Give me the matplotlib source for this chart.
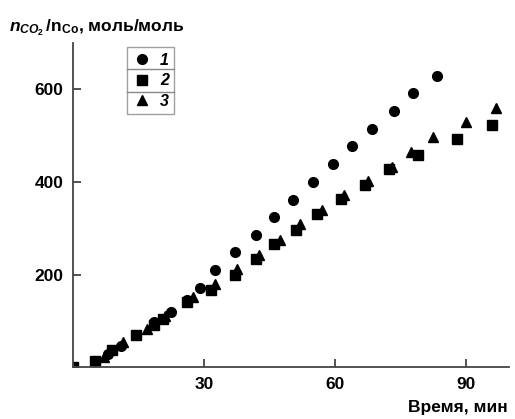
import numpy as np
import matplotlib
matplotlib.use("Agg")
import matplotlib.pyplot as plt
from matplotlib.lines import Line2D

plt.rcParams['font.family'] = ['Liberation Sans', 'DejaVu Sans']
plt.rcParams['mathtext.fontset'] = 'custom'
plt.rcParams['mathtext.rm'] = 'Liberation Sans:bold'
plt.rcParams['mathtext.it'] = 'Liberation Sans:italic:bold'
plt.rcParams['mathtext.bf'] = 'Liberation Sans:bold'

# series 1 (circles)
t1 = [0, 5, 8, 11, 14.5, 18.5, 22.5, 26, 29, 32.5, 37, 42, 46, 50.5, 55, 59.5, 64, 68.5, 73.5, 78, 83.5]
n1 = [0, 12, 28, 45, 70, 97, 120, 145, 170, 209, 248, 286, 324, 361, 400, 439, 477, 515, 553, 592, 630]

# series 2 (squares)
t2 = [0, 5, 9, 14.5, 18.5, 20.5, 26, 31.5, 37, 42, 46, 51, 56, 61.5, 67, 72.5, 79, 88, 96]
n2 = [0, 14, 36, 70, 90, 104, 140, 167, 200, 234, 265, 297, 331, 363, 394, 427, 459, 492, 524]

# series 3 (triangles)
t3 = [0, 7, 11.5, 17, 21, 27.5, 32.5, 37.5, 42.5, 47.5, 52, 57, 62, 67.5, 73, 77.5, 82.5, 90, 97]
n3 = [0, 22, 55, 82, 110, 151, 180, 212, 243, 275, 310, 340, 371, 403, 432, 464, 497, 529, 560]

labels = ['1', '2', '3']
xticks = [30, 60, 90]
yticks = [200, 400, 600]

fig = plt.figure(figsize=(5.15, 4.19), dpi=100)
ax = fig.add_axes([0.142, 0.124, 0.847, 0.773])

h1, = ax.plot(t1, n1, 'o', color='black', ms=7, ls='none')
h2, = ax.plot(t2, n2, 's', color='black', ms=6.5, ls='none')
h3, = ax.plot(t3, n3, '^', color='black', ms=7.5, ls='none')

ax.set_xlim(0, 100)
ax.set_ylim(0, 700)
ax.set_xticks(xticks)
ax.set_yticks(yticks)

for s in ['top', 'right']:
    ax.spines[s].set_visible(False)
for s in ['left', 'bottom']:
    ax.spines[s].set_color('#444444')
    ax.spines[s].set_linewidth(1.3)
    ax.spines[s].set_zorder(3)

ax.tick_params(direction='in', length=6, width=1.3, color='#444444',
               labelsize=12.5, pad=7)
for lab in ax.get_xticklabels() + ax.get_yticklabels():
    lab.set_fontweight('bold')

leg = ax.legend([h1, h2, h3], labels, loc='upper left',
                bbox_to_anchor=(0.124, 0.988), borderaxespad=0,
                frameon=True, fancybox=False,
                edgecolor='#888888', handlelength=1.2, handletextpad=0.5,
                borderpad=0.35, labelspacing=0.35, markerfirst=True,
                prop={'weight': 'bold', 'style': 'italic', 'size': 11.5})
leg.get_frame().set_linewidth(1.0)

fig.canvas.draw()
bb = leg.get_frame().get_window_extent().transformed(fig.transFigure.inverted())
for k in (1, 2):
    yy = bb.y0 + bb.height * k / 3
    fig.add_artist(Line2D([bb.x0, bb.x1], [yy, yy], color='#888888', lw=1.0))

fig.text(0.018, 0.935, r"$\mathit{n}_{\mathit{CO_2}}\,$/n$_{\mathrm{Co}}$, моль/моль",
         fontsize=12.5, fontweight='bold', ha='left', va='center')
fig.text(0.986, 0.027, "Время, мин", fontsize=12.5, fontweight='bold',
         ha='right', va='center')

fig.savefig("out.png", dpi=100)
